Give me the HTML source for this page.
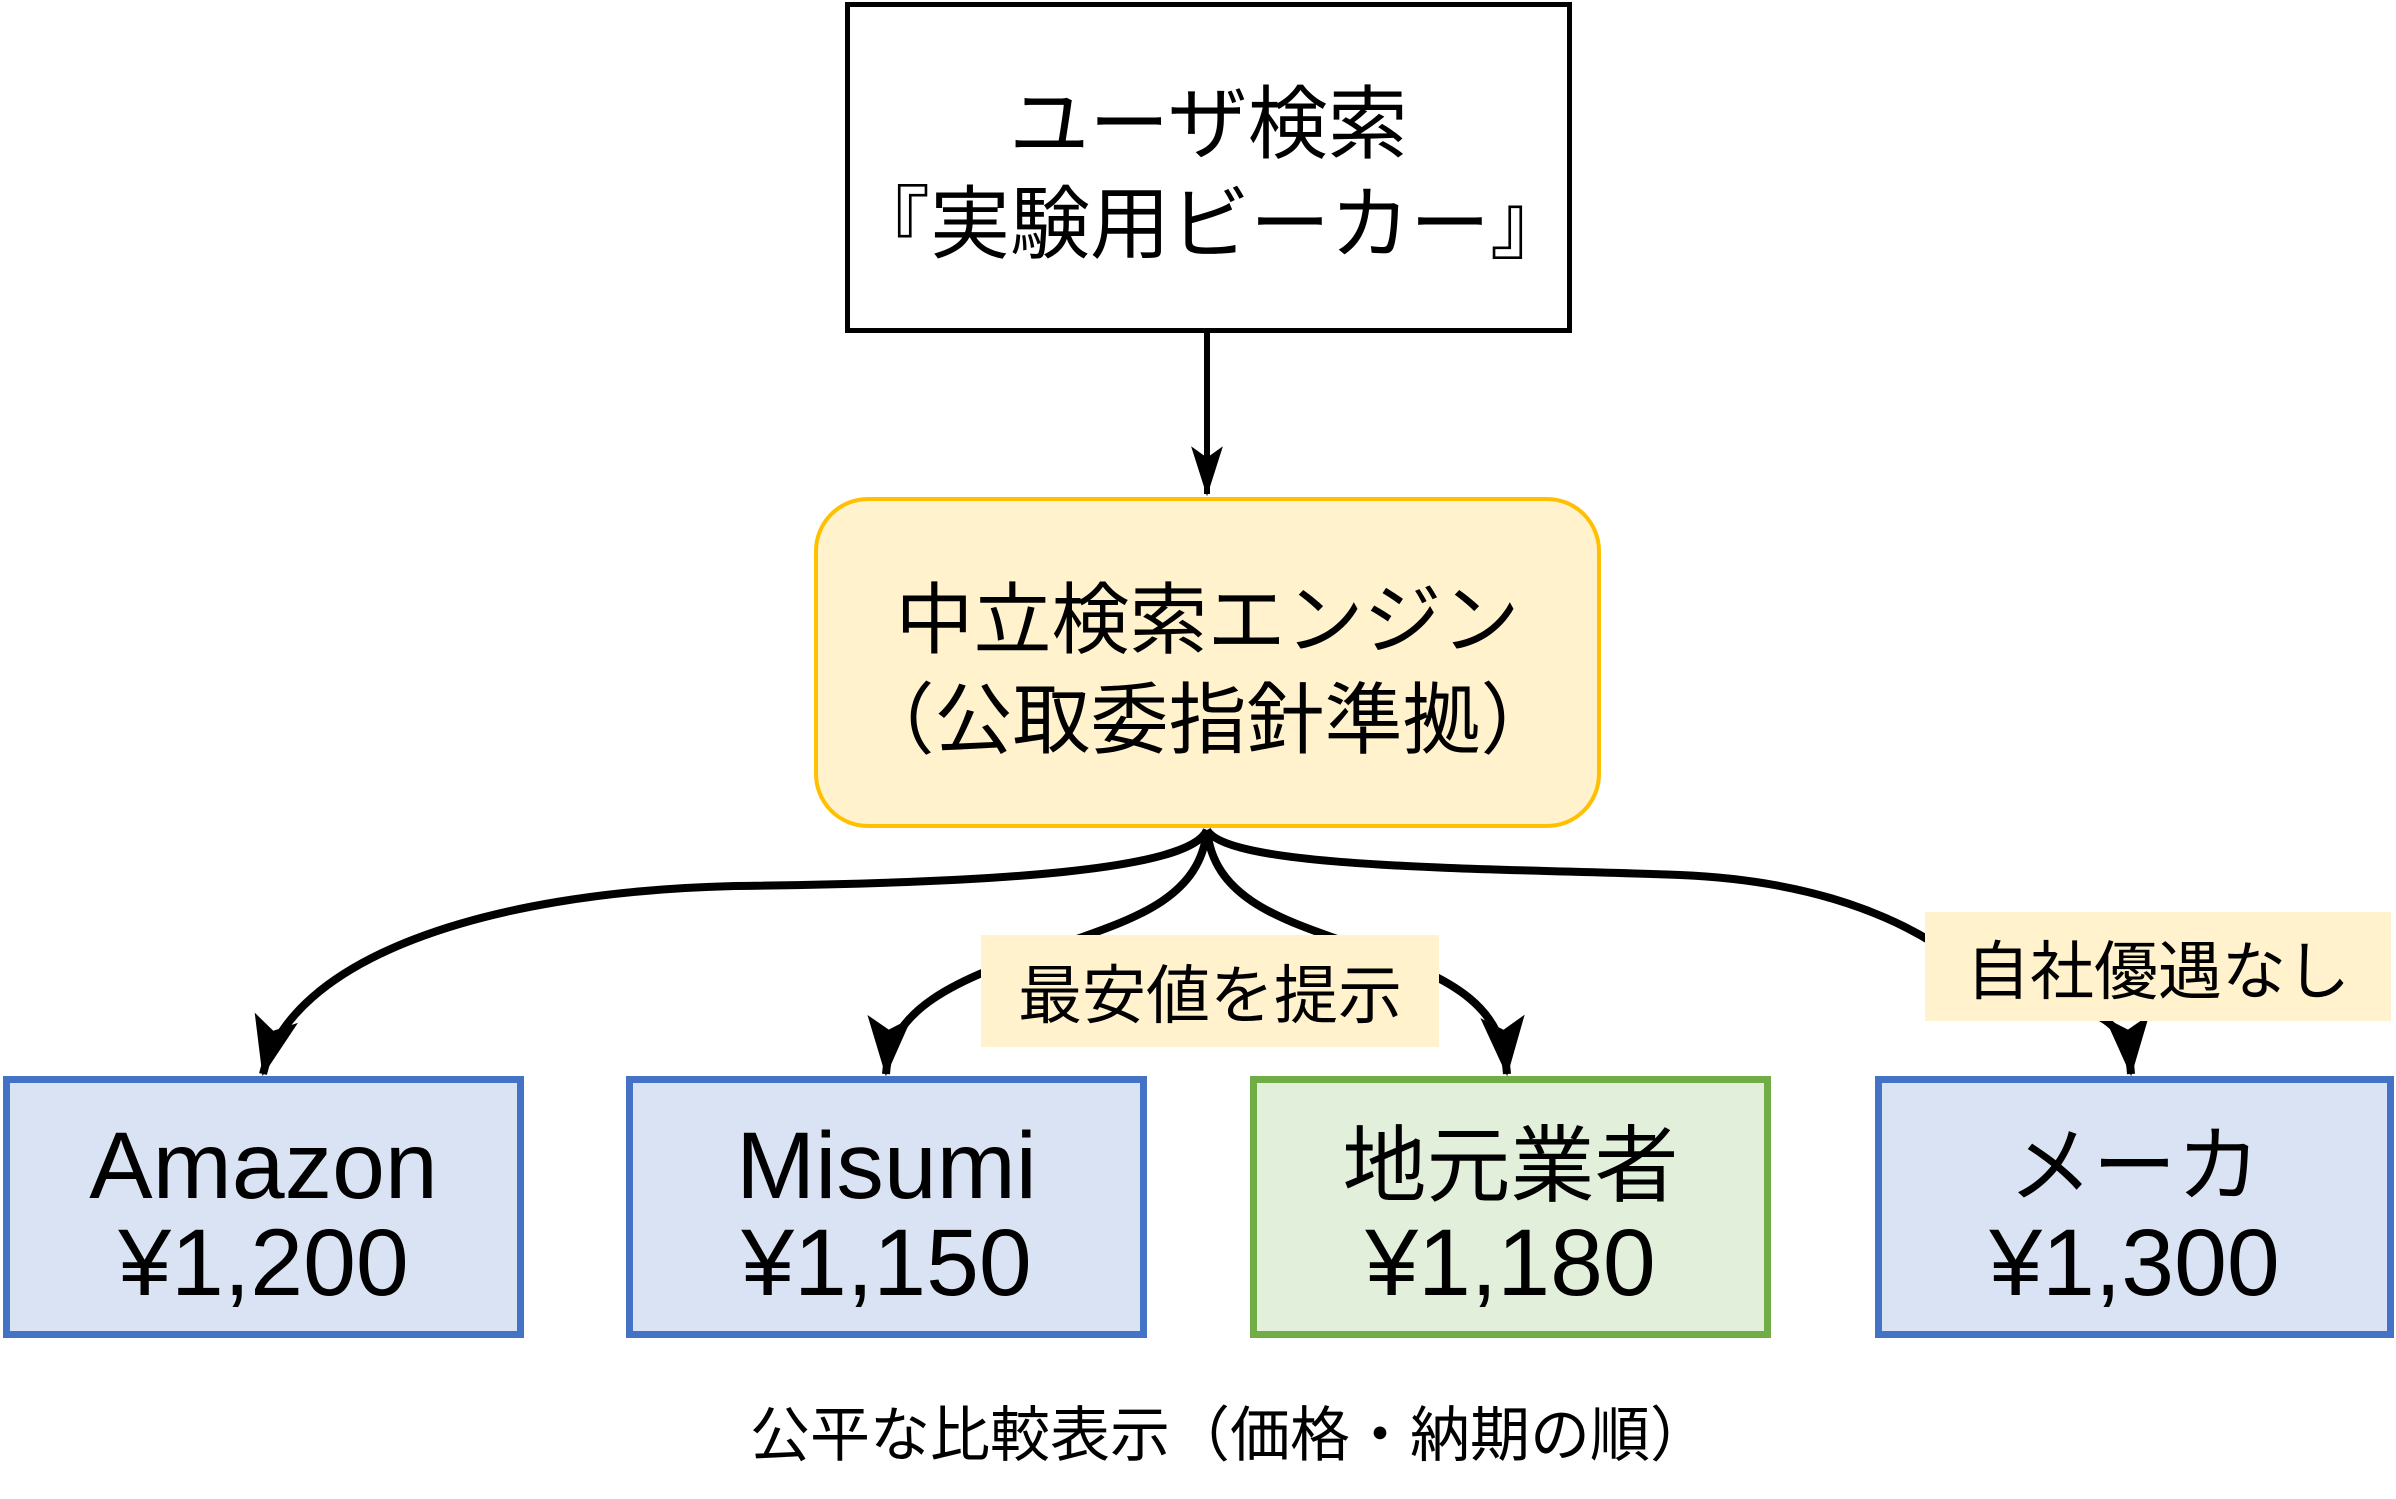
<!DOCTYPE html>
<html><head><meta charset="utf-8"><style>
html,body{margin:0;padding:0;background:#fff;}
body{width:2396px;height:1499px;position:relative;overflow:hidden;font-family:"Liberation Sans","Noto Sans CJK JP",sans-serif;color:#000;}
.b{position:absolute;box-sizing:border-box;display:flex;flex-direction:column;align-items:center;justify-content:center;text-align:center;}
</style></head><body>
<svg width="2396" height="1499" style="position:absolute;left:0;top:0">
<defs>
<marker id="a" markerUnits="userSpaceOnUse" markerWidth="60" markerHeight="60" refX="52" refY="20" orient="auto" viewBox="0 0 54 40">
<path d="M0,0 L54,20 L0,40 L12,20 Z" fill="#000"/></marker>
<marker id="t" markerUnits="userSpaceOnUse" markerWidth="50" markerHeight="50" refX="42" refY="14" orient="auto" viewBox="0 0 44 28">
<path d="M0,0 L44,14 L0,28 L10,14 Z" fill="#000"/></marker>
</defs>
<line x1="1207" y1="332" x2="1207" y2="494" stroke="#000" stroke-width="6" marker-end="url(#t)"/>
<g fill="none" stroke="#000" stroke-width="8">
<path d="M1207,830 C1190,870 1000,883 735,886 C480,892 290,960 263,1074" marker-end="url(#a)"/>
<path d="M1207,830 C1200,900 1130,920 1060,945 C950,980 890,1010 886,1074" marker-end="url(#a)"/>
<path d="M1207,830 C1214,900 1284,920 1354,945 C1464,980 1502,1010 1507,1074" marker-end="url(#a)"/>
<path d="M1207,830 C1230,870 1500,868 1680,875 C1850,882 1950,940 2000,1000 C2110,1000 2128,1030 2131,1074" marker-end="url(#a)"/>
</g>
</svg>
<div class="b" style="left:845px;top:2px;width:727px;height:331px;border:5px solid #000;background:#fff;font-size:80px;line-height:100px;padding-top:14px;">ユーザ検索<br>『実験用ビーカー』</div>
<div class="b" style="left:814px;top:497px;width:787px;height:331px;border:4px solid #ffc000;background:#fff2cc;border-radius:54px;font-size:78px;line-height:100px;padding-top:14px;">中立検索エンジン<br>（公取委指針準拠）</div>
<div class="b" style="left:981px;top:935px;width:458px;height:112px;background:#fff2cc;font-size:64px;">最安値を提示</div>
<div class="b" style="left:1925px;top:912px;width:466px;height:109px;background:#fff2cc;font-size:64px;">自社優遇なし</div>
<div class="b" style="left:3px;top:1076px;width:521px;height:262px;border:7px solid #4472c4;background:#dae3f3;font-size:95px;line-height:97px;padding-top:16px;">Amazon<br>¥1,200</div>
<div class="b" style="left:626px;top:1076px;width:521px;height:262px;border:7px solid #4472c4;background:#dae3f3;font-size:95px;line-height:97px;padding-top:16px;">Misumi<br>¥1,150</div>
<div class="b" style="left:1250px;top:1076px;width:521px;height:262px;border:7px solid #70ad47;background:#e2efda;font-size:95px;line-height:97px;padding-top:16px;"><span style="font-size:84px">地元業者</span>¥1,180</div>
<div class="b" style="left:1875px;top:1076px;width:519px;height:262px;border:7px solid #4472c4;background:#dae3f3;font-size:95px;line-height:97px;padding-top:16px;"><span style="font-size:84px">メーカ</span>¥1,300</div>
<div class="b" style="left:600px;top:1390px;width:1260px;height:80px;font-size:60px;">公平な比較表示（価格・納期の順）</div>
</body></html>
